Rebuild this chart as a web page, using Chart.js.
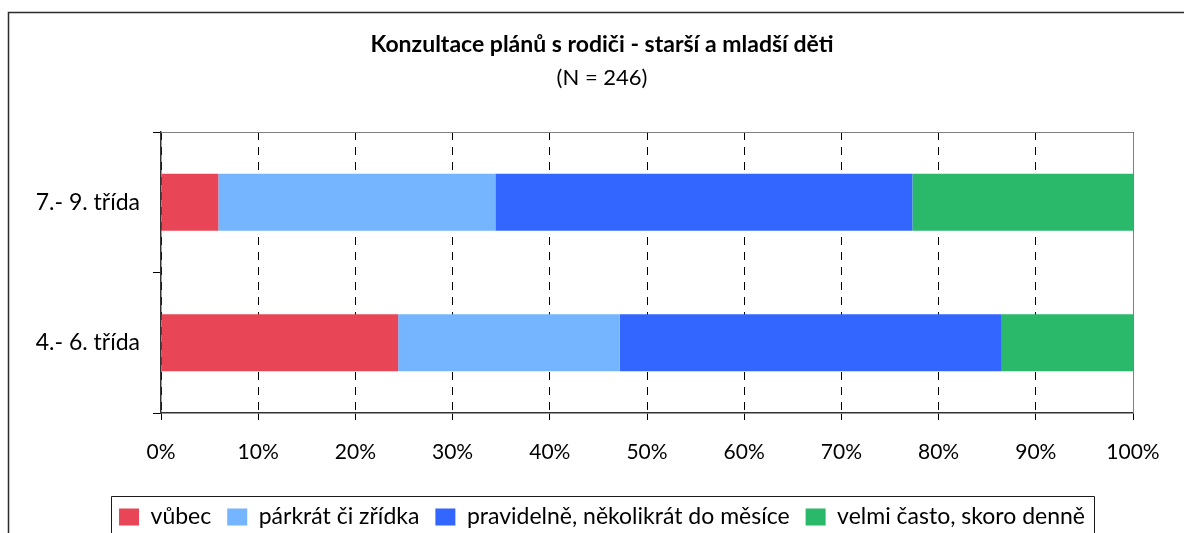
<!DOCTYPE html>
<html>
<head>
<meta charset="utf-8">
<script src="https://cdn.jsdelivr.net/npm/chart.js@4/dist/chart.umd.min.js"></script>
<style>
  html, body { margin: 0; padding: 0; background: #fff; }
  #wrap { width: 1184px; height: 533px; position: relative; }
</style>
</head>
<body>
<div id="wrap"><canvas id="planChart"></canvas></div>
<script>
var categories = ['7.- 9. třída', '4.- 6. třída'];
var seriesNames = ['vůbec', 'párkrát či zřídka', 'pravidelně, několikrát do měsíce', 'velmi často, skoro denně'];
var never     = [5.9, 24.4];
var rarely    = [28.5, 22.8];
var regularly = [42.9, 39.3];
var often     = [22.7, 13.5];
var colors = ['#E84656', '#75B4FF', '#3366FF', '#2AB86A'];

Chart.defaults.font.family = 'Lato, "Open Sans", sans-serif';
Chart.defaults.color = '#000';

// white background, outer frame, plot border and the legend box
var framePlugin = {
  id: 'frame',
  afterLayout: function (chart) {
    // let the category labels use the space left of the axis box
    chart.scales.y.left = 15;
  },
  beforeDraw: function (chart) {
    var ctx = chart.ctx;
    ctx.save();
    ctx.fillStyle = '#fff';
    ctx.fillRect(0, 0, chart.width, chart.height);
    ctx.strokeStyle = '#2b2b2b';
    ctx.lineWidth = 1.5;
    ctx.beginPath();
    ctx.moveTo(8.5, chart.height);
    ctx.lineTo(8.5, 12.5);
    ctx.lineTo(chart.width, 12.5);
    ctx.stroke();
    ctx.restore();
  },
  afterDatasetsDraw: function (chart) {
    var a = chart.chartArea, ctx = chart.ctx;
    ctx.save();
    ctx.strokeStyle = '#808080';
    ctx.lineWidth = 1;
    ctx.beginPath();
    ctx.moveTo(a.left, a.top + 0.5);
    ctx.lineTo(a.right + 0.5, a.top + 0.5);
    ctx.lineTo(a.right + 0.5, a.bottom);
    ctx.stroke();
    ctx.restore();
  },
  afterDraw: function (chart) {
    var boxes = chart.legend.legendHitBoxes;
    if (!boxes || !boxes.length) return;
    var first = boxes[0], last = boxes[boxes.length - 1];
    var left = first.left - 8, right = last.left + last.width + 9;
    var top = first.top - 9.5;
    var ctx = chart.ctx;
    ctx.save();
    ctx.strokeStyle = '#1a1a1a';
    ctx.lineWidth = 1;
    ctx.beginPath();
    ctx.moveTo(Math.round(left) + 0.5, chart.height);
    ctx.lineTo(Math.round(left) + 0.5, Math.round(top) + 0.5);
    ctx.lineTo(Math.round(right) + 0.5, Math.round(top) + 0.5);
    ctx.lineTo(Math.round(right) + 0.5, chart.height);
    ctx.stroke();
    ctx.restore();
  }
};

var seriesData = [never, rarely, regularly, often];
var datasets = seriesNames.map(function (name, i) {
  return {
    label: name,
    data: seriesData[i],
    backgroundColor: colors[i],
    borderWidth: 0,
    categoryPercentage: 1,
    barPercentage: 0.405
  };
});

var ctx = document.getElementById('planChart');
var chart = new Chart(ctx, {
  type: 'bar',
  data: { labels: categories, datasets: datasets },
  plugins: [framePlugin],
  options: {
    indexAxis: 'y',
    responsive: true,
    maintainAspectRatio: false,
    animation: false,
    layout: { padding: { left: 71, right: 51, top: 0, bottom: -5.5 } },
    scales: {
      x: {
        stacked: true,
        min: 0,
        max: 100,
        ticks: {
          stepSize: 10,
          padding: 19.4,
          font: { size: 21 },
          color: '#000',
          callback: function (v) { return v + '%'; }
        },
        grid: {
          color: '#000',
          lineWidth: 1,
          tickLength: 7,
          tickColor: '#000'
        },
        border: { color: '#333', width: 1.5, dash: [8, 7] },
        afterFit: function (scale) { scale.height = 76.5; }
      },
      y: {
        stacked: true,
        ticks: { font: { size: 23 }, color: '#000', padding: 13 },
        grid: {
          offset: true,
          drawOnChartArea: false,
          drawTicks: true,
          tickLength: 8,
          tickColor: '#000'
        },
        border: { color: '#333', width: 1.5 },
        afterFit: function (scale) { scale.width = 90; }
      }
    },
    plugins: {
      title: {
        display: true,
        text: 'Konzultace plánů s rodiči - starší a mladší děti',
        color: '#000',
        font: { size: 23, weight: 'bold' },
        padding: { top: 31.2, bottom: 6 }
      },
      subtitle: {
        display: true,
        text: '(N = 246)',
        color: '#000',
        font: { size: 22 },
        padding: { top: 0, bottom: 40.8 }
      },
      legend: {
        position: 'bottom',
        labels: {
          boxWidth: 20,
          boxHeight: 17,
          padding: 16,
          color: '#000',
          font: { size: 23 }
        }
      },
      tooltip: { enabled: false }
    }
  }
});
</script>
</body>
</html>
